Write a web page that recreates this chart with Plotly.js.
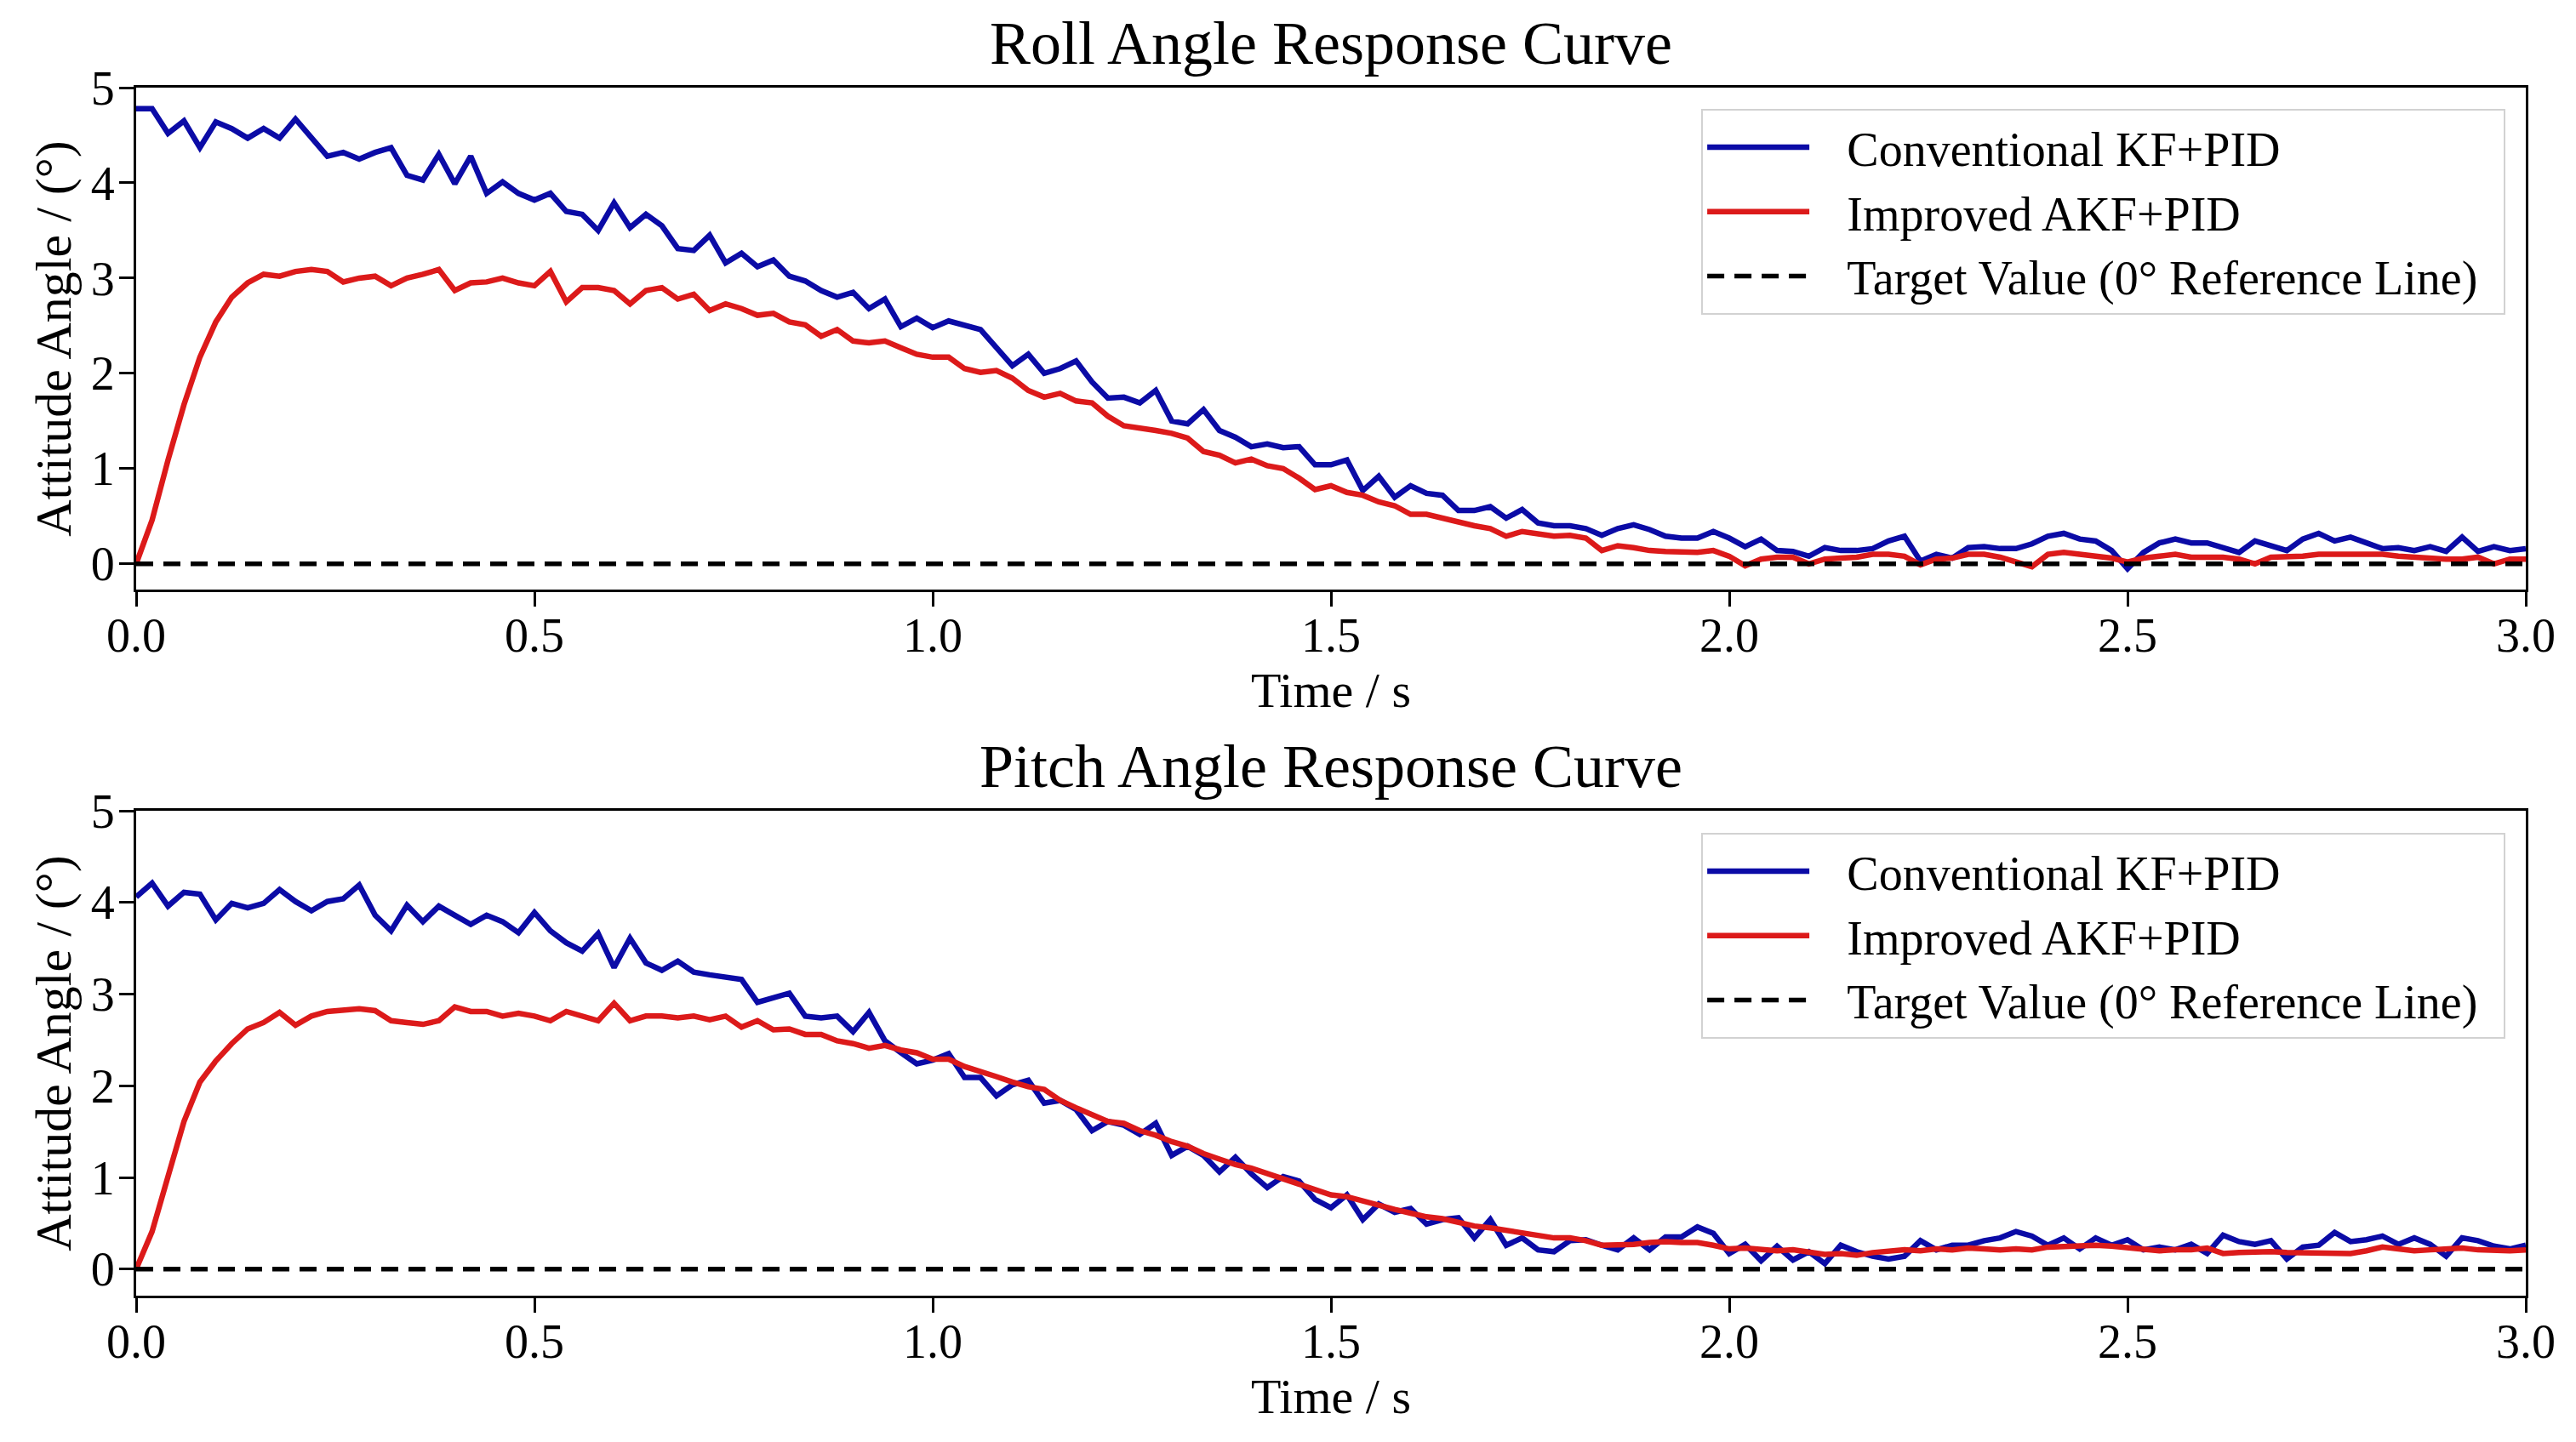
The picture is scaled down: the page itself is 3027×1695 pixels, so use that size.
<!DOCTYPE html>
<html>
<head>
<meta charset="utf-8">
<script src="https://cdn.plot.ly/plotly-3.0.1.min.js"></script>
<style>
  html, body { margin: 0; padding: 0; background: #fff; }
  #chart { width: 3027px; height: 1695px; }
</style>
</head>
<body>
<div id="chart"></div>
<script>
// ======== DATA (0.02 s steps) ========
var time = [
  0.00, 0.02, 0.04, 0.06, 0.08, 0.10, 0.12, 0.14, 0.16, 0.18,
  0.20, 0.22, 0.24, 0.26, 0.28, 0.30, 0.32, 0.34, 0.36, 0.38,
  0.40, 0.42, 0.44, 0.46, 0.48, 0.50, 0.52, 0.54, 0.56, 0.58,
  0.60, 0.62, 0.64, 0.66, 0.68, 0.70, 0.72, 0.74, 0.76, 0.78,
  0.80, 0.82, 0.84, 0.86, 0.88, 0.90, 0.92, 0.94, 0.96, 0.98,
  1.00, 1.02, 1.04, 1.06, 1.08, 1.10, 1.12, 1.14, 1.16, 1.18,
  1.20, 1.22, 1.24, 1.26, 1.28, 1.30, 1.32, 1.34, 1.36, 1.38,
  1.40, 1.42, 1.44, 1.46, 1.48, 1.50, 1.52, 1.54, 1.56, 1.58,
  1.60, 1.62, 1.64, 1.66, 1.68, 1.70, 1.72, 1.74, 1.76, 1.78,
  1.80, 1.82, 1.84, 1.86, 1.88, 1.90, 1.92, 1.94, 1.96, 1.98,
  2.00, 2.02, 2.04, 2.06, 2.08, 2.10, 2.12, 2.14, 2.16, 2.18,
  2.20, 2.22, 2.24, 2.26, 2.28, 2.30, 2.32, 2.34, 2.36, 2.38,
  2.40, 2.42, 2.44, 2.46, 2.48, 2.50, 2.52, 2.54, 2.56, 2.58,
  2.60, 2.62, 2.64, 2.66, 2.68, 2.70, 2.72, 2.74, 2.76, 2.78,
  2.80, 2.82, 2.84, 2.86, 2.88, 2.90, 2.92, 2.94, 2.96, 2.98,
  3.00
];

// roll angle, conventional KF+PID
var rollKF = [
  4.78, 4.78, 4.52, 4.65, 4.37, 4.64, 4.57, 4.47, 4.57, 4.47,
  4.67, 4.47, 4.28, 4.32, 4.25, 4.32, 4.37, 4.08, 4.03, 4.30,
  3.99, 4.28, 3.89, 4.01, 3.89, 3.82, 3.89, 3.70, 3.67, 3.50,
  3.79, 3.53, 3.67, 3.55, 3.31, 3.29, 3.45, 3.16, 3.26, 3.12,
  3.19, 3.02, 2.97, 2.87, 2.80, 2.85, 2.68, 2.78, 2.49, 2.58,
  2.48, 2.55, 2.51, 2.46, 2.27, 2.08, 2.20, 2.00, 2.05, 2.13,
  1.91, 1.74, 1.75, 1.69, 1.82, 1.50, 1.47, 1.62, 1.40, 1.33,
  1.23, 1.26, 1.22, 1.23, 1.04, 1.04, 1.09, 0.77, 0.92, 0.70,
  0.82, 0.74, 0.72, 0.56, 0.56, 0.60, 0.48, 0.57, 0.43, 0.40,
  0.40, 0.37, 0.30, 0.37, 0.41, 0.36, 0.29, 0.27, 0.27, 0.34,
  0.27, 0.18, 0.26, 0.14, 0.13, 0.08, 0.17, 0.14, 0.14, 0.16,
  0.24, 0.29, 0.03, 0.10, 0.06, 0.17, 0.18, 0.16, 0.16, 0.21,
  0.29, 0.32, 0.26, 0.24, 0.14, -0.05, 0.12, 0.22, 0.26, 0.22,
  0.22, 0.17, 0.12, 0.24, 0.19, 0.14, 0.26, 0.32, 0.24, 0.28,
  0.22, 0.16, 0.17, 0.14, 0.18, 0.13, 0.28, 0.13, 0.18, 0.14,
  0.16
];

// roll angle, improved AKF+PID
var rollAKF = [
  0.00, 0.46, 1.09, 1.67, 2.17, 2.54, 2.80, 2.95, 3.04, 3.02,
  3.07, 3.09, 3.07, 2.96, 3.00, 3.02, 2.92, 3.00, 3.04, 3.09,
  2.87, 2.95, 2.96, 3.00, 2.95, 2.92, 3.07, 2.75, 2.90, 2.90,
  2.87, 2.73, 2.87, 2.90, 2.78, 2.83, 2.66, 2.73, 2.68, 2.61,
  2.63, 2.54, 2.51, 2.39, 2.46, 2.34, 2.32, 2.34, 2.27, 2.20,
  2.17, 2.17, 2.05, 2.01, 2.03, 1.95, 1.82, 1.75, 1.79, 1.71,
  1.69, 1.55, 1.45, 1.43, 1.40, 1.37, 1.32, 1.18, 1.14, 1.06,
  1.10, 1.03, 1.00, 0.90, 0.78, 0.82, 0.75, 0.72, 0.65, 0.61,
  0.52, 0.52, 0.48, 0.43, 0.40, 0.37, 0.29, 0.34, 0.31, 0.29,
  0.30, 0.27, 0.14, 0.19, 0.17, 0.14, 0.13, 0.12, 0.12, 0.14,
  0.08, -0.02, 0.05, 0.07, 0.07, 0.00, 0.05, 0.06, 0.07, 0.10,
  0.10, 0.08, -0.01, 0.05, 0.06, 0.10, 0.10, 0.07, 0.02, -0.03,
  0.10, 0.12, 0.10, 0.08, 0.06, 0.02, 0.06, 0.08, 0.10, 0.07,
  0.07, 0.07, 0.05, 0.00, 0.07, 0.07, 0.08, 0.10, 0.10, 0.11,
  0.10, 0.10, 0.08, 0.07, 0.05, 0.05, 0.05, 0.07, 0.00, 0.05,
  0.05
];

// pitch angle, conventional KF+PID
var pitchKF = [
  4.06, 4.21, 3.96, 4.11, 4.09, 3.81, 3.99, 3.94, 3.99, 4.14,
  4.01, 3.91, 4.01, 4.04, 4.19, 3.86, 3.69, 3.97, 3.79, 3.96,
  3.86, 3.76, 3.86, 3.79, 3.67, 3.89, 3.69, 3.56, 3.47, 3.66,
  3.29, 3.61, 3.34, 3.26, 3.36, 3.24, 3.21, 3.19, 3.16, 2.91,
  2.96, 3.01, 2.76, 2.74, 2.76, 2.59, 2.80, 2.49, 2.36, 2.24,
  2.28, 2.35, 2.09, 2.09, 1.89, 2.01, 2.06, 1.81, 1.84, 1.74,
  1.51, 1.61, 1.57, 1.47, 1.59, 1.24, 1.34, 1.24, 1.06, 1.22,
  1.04, 0.89, 1.01, 0.96, 0.76, 0.67, 0.81, 0.54, 0.71, 0.62,
  0.66, 0.49, 0.54, 0.56, 0.34, 0.54, 0.26, 0.34, 0.21, 0.19,
  0.31, 0.32, 0.26, 0.21, 0.34, 0.21, 0.35, 0.35, 0.46, 0.39,
  0.17, 0.27, 0.09, 0.25, 0.10, 0.19, 0.06, 0.26, 0.19, 0.14,
  0.11, 0.14, 0.31, 0.21, 0.26, 0.26, 0.31, 0.34, 0.41, 0.36,
  0.26, 0.34, 0.22, 0.34, 0.26, 0.32, 0.21, 0.24, 0.21, 0.27,
  0.17, 0.37, 0.30, 0.27, 0.31, 0.11, 0.24, 0.26, 0.40, 0.30,
  0.32, 0.36, 0.27, 0.34, 0.27, 0.14, 0.34, 0.31, 0.25, 0.22,
  0.26
];

// pitch angle, improved AKF+PID
var pitchAKF = [
  0.00, 0.41, 1.01, 1.61, 2.04, 2.27, 2.46, 2.62, 2.69, 2.80,
  2.66, 2.76, 2.81, 2.82, 2.84, 2.82, 2.71, 2.69, 2.67, 2.71,
  2.86, 2.81, 2.81, 2.76, 2.79, 2.76, 2.71, 2.81, 2.76, 2.71,
  2.90, 2.71, 2.76, 2.76, 2.74, 2.76, 2.72, 2.76, 2.64, 2.71,
  2.61, 2.62, 2.56, 2.56, 2.49, 2.46, 2.41, 2.44, 2.39, 2.36,
  2.29, 2.29, 2.21, 2.16, 2.10, 2.04, 1.99, 1.96, 1.84, 1.76,
  1.69, 1.61, 1.59, 1.51, 1.46, 1.39, 1.34, 1.26, 1.20, 1.14,
  1.10, 1.04, 0.99, 0.92, 0.86, 0.81, 0.79, 0.74, 0.69, 0.65,
  0.61, 0.57, 0.55, 0.51, 0.47, 0.45, 0.42, 0.39, 0.36, 0.34,
  0.34, 0.31, 0.26, 0.26, 0.27, 0.29, 0.30, 0.29, 0.29, 0.26,
  0.22, 0.23, 0.21, 0.20, 0.21, 0.19, 0.16, 0.17, 0.15, 0.18,
  0.20, 0.21, 0.20, 0.22, 0.21, 0.23, 0.22, 0.21, 0.22, 0.21,
  0.24, 0.25, 0.25, 0.26, 0.25, 0.23, 0.22, 0.20, 0.21, 0.21,
  0.23, 0.17, 0.18, 0.19, 0.19, 0.18, 0.18, 0.18, 0.17, 0.17,
  0.20, 0.24, 0.22, 0.20, 0.21, 0.22, 0.23, 0.21, 0.20, 0.20,
  0.21
];

var targetTime = [0, 3];
var targetValue = [0, 0];

var seriesNames = ['Conventional KF+PID', 'Improved AKF+PID', 'Target Value (0\u00b0 Reference Line)'];
var panelTitles = ['Roll Angle Response Curve', 'Pitch Angle Response Curve'];
var xTickVals = [0, 0.5, 1.0, 1.5, 2.0, 2.5, 3.0];
var xTickText = ['0.0', '0.5', '1.0', '1.5', '2.0', '2.5', '3.0'];
var yTickVals = [0, 1, 2, 3, 4, 5];

// ======== STYLE ========
var FONT = '"Liberation Serif", "Times New Roman", serif';
var BLUE = '#0b0ba6';
var RED = '#dc1a1a';
// spacing between legend swatch and label, and a little right padding
var PAD_L = '\u00a0\u00a0\u2009';
var PAD_R = '\u00a0\u2009';

function makeTraces(kf, akf, xa, ya, lg) {
  return [
    { x: time, y: kf, xaxis: xa, yaxis: ya, legend: lg, type: 'scatter', mode: 'lines',
      name: PAD_L + seriesNames[0] + PAD_R, line: { color: BLUE, width: 6.5 } },
    { x: time, y: akf, xaxis: xa, yaxis: ya, legend: lg, type: 'scatter', mode: 'lines',
      name: PAD_L + seriesNames[1] + PAD_R, line: { color: RED, width: 6.5 } },
    { x: targetTime, y: targetValue, xaxis: xa, yaxis: ya, legend: lg, type: 'scatter', mode: 'lines',
      name: PAD_L + seriesNames[2] + PAD_R, line: { color: '#000', width: 5.5, dash: '20px,12px' } }
  ];
}

var plotData = makeTraces(rollKF, rollAKF, 'x', 'y', 'legend')
  .concat(makeTraces(pitchKF, pitchAKF, 'x2', 'y2', 'legend2'));

function xAxis(anchor) {
  return {
    anchor: anchor,
    domain: [0, 1],
    range: [0, 3],
    tickvals: xTickVals,
    ticktext: xTickText,
    ticks: 'outside', ticklen: 17, tickwidth: 3, tickcolor: '#000',
    ticklabelstandoff: -14,
    showline: true, linewidth: 3, linecolor: '#000', mirror: true,
    showgrid: false, zeroline: false,
    tickfont: { family: FONT, size: 56, color: '#000' },
    title: { text: 'Time / s', font: { family: FONT, size: 58, color: '#000' }, standoff: 14 }
  };
}

function yAxis(anchor, domain, lo) {
  return {
    anchor: anchor,
    domain: domain,
    range: [lo, 5],
    tickvals: yTickVals,
    ticks: 'outside', ticklen: 17, tickwidth: 3, tickcolor: '#000',
    ticklabelstandoff: -6,
    showline: true, linewidth: 3, linecolor: '#000', mirror: true,
    showgrid: false, zeroline: false,
    tickfont: { family: FONT, size: 56, color: '#000' },
    title: { text: 'Attitude Angle / (\u00b0)', font: { family: FONT, size: 60, color: '#000' }, standoff: 4 }
  };
}

function legendBox(y) {
  return {
    x: 0.9915, xanchor: 'right', xref: 'paper',
    y: y, yanchor: 'top', yref: 'paper',
    bgcolor: 'rgba(255,255,255,0.85)',
    bordercolor: '#d2d2d2', borderwidth: 2,
    itemwidth: 120,
    font: { family: FONT, size: 56, color: '#000' }
  };
}

var layout = {
  width: 3027,
  height: 1695,
  margin: { l: 160, r: 59, t: 103, b: 172, pad: 0 },
  paper_bgcolor: '#fff',
  plot_bgcolor: '#fff',
  showlegend: true,
  font: { family: FONT, color: '#000' },
  xaxis: xAxis('y'),
  yaxis: yAxis('x', [0.5845, 1], -0.27),
  xaxis2: xAxis('y2'),
  yaxis2: yAxis('x2', [0, 0.4014], -0.29),
  legend: legendBox(0.9824),
  legend2: legendBox(0.3831),
  annotations: [
    { text: panelTitles[0], xref: 'x domain', yref: 'y domain', x: 0.5, y: 1,
      xanchor: 'center', yanchor: 'bottom', yshift: 10, showarrow: false,
      font: { family: FONT, size: 72, color: '#000' } },
    { text: panelTitles[1], xref: 'x2 domain', yref: 'y2 domain', x: 0.5, y: 1,
      xanchor: 'center', yanchor: 'bottom', yshift: 10, showarrow: false,
      font: { family: FONT, size: 72, color: '#000' } }
  ]
};

Plotly.newPlot('chart', plotData, layout, { staticPlot: true, displayModeBar: false });
</script>
</body>
</html>
